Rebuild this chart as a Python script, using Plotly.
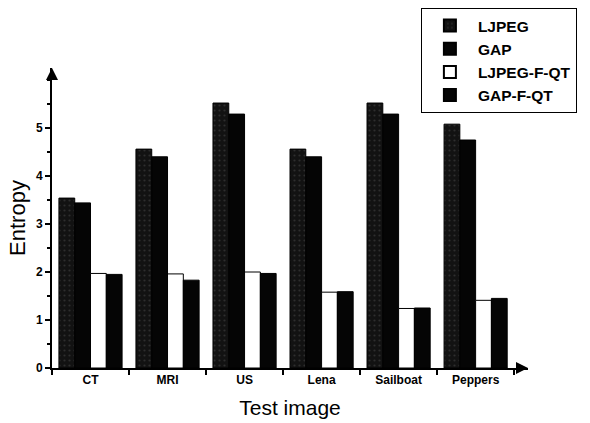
import plotly.graph_objects as go

categories = ["CT", "MRI", "US", "Lena", "Sailboat", "Peppers"]
ljpeg = [3.54, 4.56, 5.52, 4.56, 5.52, 5.08]
gap = [3.44, 4.40, 5.29, 4.40, 5.29, 4.75]
ljpeg_fqt = [1.97, 1.96, 2.00, 1.58, 1.24, 1.41]
gap_fqt = [1.95, 1.83, 1.97, 1.59, 1.25, 1.45]

series = [
    ("LJPEG", ljpeg, dict(color="#141414", line=dict(color="black", width=1),
                          pattern=dict(shape=".", fgcolor="#4a4a4a", bgcolor="#121212", size=5, solidity=0.15))),
    ("GAP", gap, dict(color="#050505", line=dict(color="black", width=1))),
    ("LJPEG-F-QT", ljpeg_fqt, dict(color="white", line=dict(color="black", width=1))),
    ("GAP-F-QT", gap_fqt, dict(color="#050505", line=dict(color="black", width=1))),
]

fig = go.Figure()
for name, vals, marker in series:
    fig.add_trace(go.Bar(x=categories, y=vals, name="<b>" + name + "</b>", marker=marker))

fig.update_layout(
    width=590, height=423,
    margin=dict(l=52, r=62, t=68, b=55, autoexpand=False),
    paper_bgcolor="white", plot_bgcolor="white",
    barmode="group", bargap=0.18, bargroupgap=0,
    font=dict(family="Liberation Sans, Arial, sans-serif", color="black"),
    showlegend=True,
    legend=dict(x=0.775, y=1.2, xanchor="left", yanchor="top",
                bordercolor="black", borderwidth=1, bgcolor="white",
                font=dict(size=15.5, color="black"), tracegroupgap=0,
                itemwidth=46, itemsizing="constant"),
    xaxis=dict(
        range=[-0.5, 5.68], showline=True, linecolor="black", linewidth=2,
        automargin=False,
        ticks="outside", tickson="boundaries", ticklen=5, tickwidth=1.5, tickcolor="black",
        tickfont=dict(size=12, color="black", family="Liberation Sans, Arial"),
        title=dict(text="Test image", font=dict(size=21), standoff=14),
        showgrid=False, zeroline=False,
    ),
    yaxis=dict(
        range=[0, 6.25], showline=True, linecolor="black", linewidth=2,
        automargin=False,
        tickvals=[0, 1, 2, 3, 4, 5], ticktext=["<b>%d</b>" % v for v in [0, 1, 2, 3, 4, 5]],
        ticks="outside", ticklen=5, tickwidth=1.5, tickcolor="black",
        minor=dict(ticks="outside", ticklen=3, dtick=0.5, tick0=0, tickcolor="black"),
        tickfont=dict(size=12, color="black"),
        title=dict(text="Entropy", font=dict(size=22), standoff=4),
        showgrid=False, zeroline=False,
    ),
)
fig.update_xaxes(ticktext=["<b>%s</b>" % c for c in categories], tickvals=categories)

# axis arrows
fig.add_annotation(xref="x domain", yref="y domain", x=0, y=1.0, ax=0, ay=10,
                   showarrow=True, arrowhead=2, arrowsize=1.2, arrowwidth=2,
                   arrowcolor="black", text="")
fig.add_annotation(xref="x domain", yref="y domain", x=1.0, y=0, ax=-10, ay=0,
                   showarrow=True, arrowhead=2, arrowsize=1.2, arrowwidth=2,
                   arrowcolor="black", text="")

fig.write_html("out.html", config={"displayModeBar": False},
               post_script="document.body.style.margin='0';")
